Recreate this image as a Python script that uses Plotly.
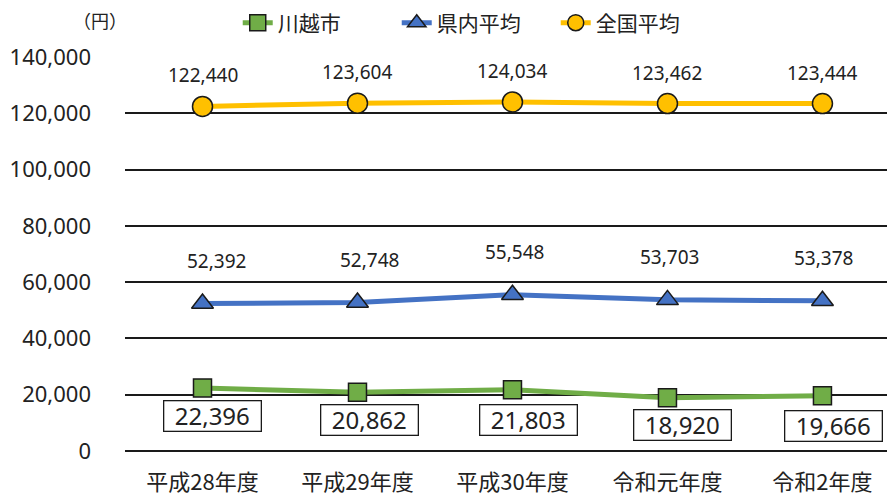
import plotly.graph_objects as go

categories = ["平成28年度", "平成29年度", "平成30年度", "令和元年度", "令和2年度"]
kawagoe = [22396, 20862, 21803, 18920, 19666]
kennai = [52392, 52748, 55548, 53703, 53378]
zenkoku = [122440, 123604, 124034, 123462, 123444]
y_ticks = [0, 20000, 40000, 60000, 80000, 100000, 120000, 140000]
y_tick_labels = ["0", "20,000", "40,000", "60,000", "80,000", "100,000", "120,000", "140,000"]

# label nudges (pixels) as placed in the original chart
box_dx = [10, 12, 16, 15, 11]
box_dy = [-28, -28, -30, -27, -30]
blue_dx = [14, 12, 2, 2, 1]

FONT = "'Noto Sans', 'Noto Sans CJK JP', sans-serif"
JP = "'Noto Sans CJK JP', sans-serif"

fig = go.Figure()
fig.add_trace(go.Scatter(
    x=categories, y=kawagoe, name="川越市", mode="lines+markers",
    line=dict(color="#70AD47", width=5),
    marker=dict(symbol="square", size=18, color="#70AD47", line=dict(color="#1a1a1a", width=1.5)),
))
fig.add_trace(go.Scatter(
    x=categories, y=kennai, name="県内平均", mode="lines+markers",
    line=dict(color="#4472C4", width=5),
    marker=dict(symbol="triangle-up", size=19, color="#4472C4", line=dict(color="#1a1a1a", width=1.5)),
))
fig.add_trace(go.Scatter(
    x=categories, y=zenkoku, name="全国平均", mode="lines+markers",
    line=dict(color="#FFC000", width=5),
    marker=dict(symbol="circle", size=20, color="#FFC000", line=dict(color="#1a1a1a", width=1.5)),
))

annotations = []
for c, v in zip(categories, zenkoku):
    annotations.append(dict(x=c, y=v, text=f"{v:,}", showarrow=False, yshift=31,
                            font=dict(size=19, color="#222", family=FONT)))
for c, v, dx in zip(categories, kennai, blue_dx):
    annotations.append(dict(x=c, y=v, text=f"{v:,}", showarrow=False, yshift=43, xshift=dx,
                            font=dict(size=19, color="#222", family=FONT)))
for c, v, dx, dy in zip(categories, kawagoe, box_dx, box_dy):
    annotations.append(dict(x=c, y=v, text=f"{v:,}", showarrow=False, yshift=dy, xshift=dx,
                            width=94, height=27, align="center", valign="middle",
                            bordercolor="#1a1a1a", borderwidth=1.3, borderpad=1,
                            bgcolor="white",
                            font=dict(size=24, color="#222", family=FONT)))
annotations.append(dict(xref="paper", yref="paper", x=0.005, y=1.094, text="（円）",
                        showarrow=False, xanchor="right", yanchor="middle",
                        font=dict(size=18, color="#222", family=JP)))

fig.update_layout(
    width=887, height=487,
    margin=dict(l=117, r=0, t=49, b=44, autoexpand=False),
    plot_bgcolor="white", paper_bgcolor="white",
    showlegend=True,
    legend=dict(orientation="h", x=0.259, xanchor="left", y=0.969, yanchor="middle",
                xref="container", yref="container", entrywidth=114,
                font=dict(size=21, color="#222", family=JP),
                traceorder="normal"),
    xaxis=dict(range=[-0.5, 4.468], showgrid=False, showline=False, ticks="",
               automargin=False, ticklabelstandoff=16,
               tickfont=dict(size=22, color="#222", family=JP)),
    yaxis=dict(range=[0, 140000], tickvals=y_ticks, ticktext=y_tick_labels,
               showgrid=True, gridcolor="#1a1a1a", gridwidth=1.5, zeroline=True,
               zerolinecolor="#1a1a1a", zerolinewidth=1.5, showline=False, ticks="",
               automargin=False, ticklabelstandoff=33,
               tickfont=dict(size=22, color="#222", family=FONT)),
    annotations=annotations,
)
fig.write_html("out.html")
